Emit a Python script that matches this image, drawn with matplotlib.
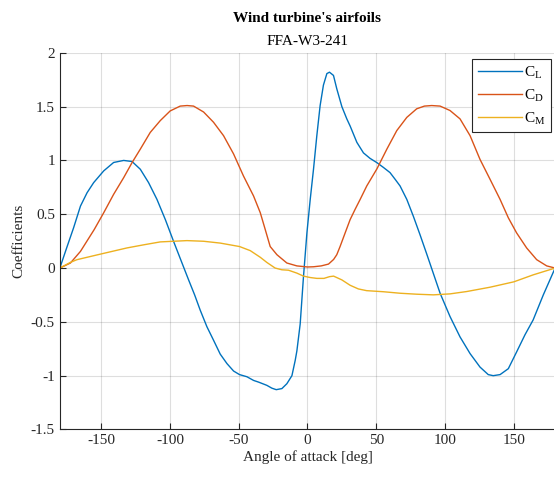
import matplotlib
matplotlib.use("Agg")
import matplotlib.pyplot as plt

plt.rcParams["font.family"] = ["Liberation Serif", "DejaVu Serif"]
plt.rcParams["mathtext.fontset"] = "custom"
plt.rcParams["mathtext.rm"] = "Liberation Serif"
plt.rcParams["axes.unicode_minus"] = False

# lift coefficient
cl_alpha = [-180, -174.7, -170, -165, -160.2, -155.4, -148.1, -140.9, -133.6, -127.5,
            -121.5, -115.5, -109.4, -103.3, -97.3, -91.2, -86.4, -82, -78, -73.1,
            -68.3, -63.4, -58.5, -53.7, -49.4, -44, -39.2, -35.5, -29.5, -25.9, -22.7,
            -18.6, -15, -11.3, -8.9, -7.7, -5.3, -2.9, -0.4, 2, 4.4, 6.8, 9.2, 11.6,
            14.1, 16, 18.9, 21.3, 25, 28.6, 31, 35.9, 40.7, 45.5, 50.4, 55.2, 60,
            63.7, 67.3, 72.2, 77, 81.8, 86.7, 96.4, 103.6, 110.9, 118.2, 125.4,
            131.4, 135, 140, 146, 152, 158.1, 164, 171.4, 180]
cl = [0, 0.2, 0.374, 0.576, 0.7, 0.794, 0.903, 0.981, 1.0, 0.99,
      0.918, 0.794, 0.638, 0.45, 0.247, 0.047, -0.11, -0.25, -0.39, -0.545,
      -0.67, -0.8, -0.888, -0.957, -0.99, -1.01, -1.044, -1.06, -1.09, -1.116, -1.13,
      -1.12, -1.075, -1.0, -0.857, -0.77, -0.52, -0.08, 0.327, 0.638, 0.92, 1.23, 1.51, 1.7,
      1.807, 1.82, 1.79, 1.666, 1.5, 1.386, 1.32, 1.168, 1.07, 1.019, 0.98, 0.935, 0.887,
      0.825, 0.763, 0.638, 0.48, 0.31, 0.13, -0.234, -0.45, -0.64, -0.795, -0.92,
      -0.99, -1.0, -0.99, -0.935, -0.78, -0.62, -0.483, -0.25, 0]

# drag coefficient
cd_alpha = [-180, -172.3, -165, -155, -148.1, -140.9, -133.6, -127.5, -121.5, -114.3,
            -107, -99.8, -92.5, -87.5, -82.8, -75.5, -68.3, -61, -53.7, -46.5, -39.2,
            -34.3, -30.7, -27.1, -22.2, -15, -7.7, 0, 4.4, 10, 15.3, 19, 21.3, 23.7,
            27.4, 31, 34.6, 38.3, 43.1, 50.4, 57.7, 64.9, 72.2, 79.4, 85, 90.3, 96.4,
            103.6, 110.9, 118.2, 125.4, 132.7, 140, 146, 152, 159.3, 166.6, 173.9, 180]
cd = [0, 0.047, 0.155, 0.358, 0.514, 0.685, 0.84, 0.98, 1.105, 1.26,
      1.37, 1.46, 1.505, 1.51, 1.505, 1.45, 1.355, 1.23, 1.06, 0.855, 0.67,
      0.514, 0.358, 0.2, 0.124, 0.047, 0.02, 0.01, 0.012, 0.02, 0.037, 0.08, 0.124, 0.2,
      0.327, 0.45, 0.545, 0.638, 0.763, 0.92, 1.105, 1.277, 1.4, 1.48, 1.505, 1.51, 1.505,
      1.464, 1.386, 1.23, 1.01, 0.825, 0.638, 0.467, 0.327, 0.187, 0.078, 0.02, 0]

# moment coefficient
cm_alpha = [-180, -172.3, -167.5, -149, -131.2, -119, -107, -87.6, -75.5, -63.4,
            -49.4, -41.6, -34.3, -29.5, -23.5, -18.6, -13.8, -7.7, -2.9, 2, 6.8, 12,
            16, 19, 25, 31, 37, 43, 55.2, 67.3, 79.4, 91.5, 103.6, 115.8, 132.7, 150,
            164.1, 180]
cm = [0, 0.053, 0.078, 0.134, 0.187, 0.216, 0.243, 0.255, 0.249, 0.232,
      0.2, 0.162, 0.1, 0.052, 0.0, -0.016, -0.02, -0.047, -0.075, -0.088, -0.096, -0.096,
      -0.08, -0.075, -0.11, -0.16, -0.194, -0.21, -0.22, -0.234, -0.243, -0.249, -0.24,
      -0.218, -0.178, -0.128, -0.063, 0]

fig = plt.figure(figsize=(5.54, 4.78), dpi=100)
ax = fig.add_axes([0.108, 0.1015, 0.894, 0.788])

ax.plot(cl_alpha, cl, color="#0072BD", lw=1.0, label=r"C$_{\rm L}$")
ax.plot(cd_alpha, cd, color="#D95319", lw=1.0, label=r"C$_{\rm D}$")
ax.plot(cm_alpha, cm, color="#EDB120", lw=1.0, label=r"C$_{\rm M}$")

ax.set_xlim(-180, 180)
ax.set_ylim(-1.5, 2)
ax.set_xticks([-150, -100, -50, 0, 50, 100, 150])
ax.set_yticks([-1.5, -1, -0.5, 0, 0.5, 1, 1.5, 2])
ax.set_yticklabels(["-1.5", "-1", "-0.5", "0", "0.5", "1", "1.5", "2"])
ax.grid(True, color="#262626", alpha=0.15, linewidth=0.8)
ax.tick_params(direction="in", length=4, labelsize=11, colors="#262626", width=0.8)
ax.spines["top"].set_visible(False)
ax.spines["right"].set_visible(False)
for s in ["left", "bottom"]:
    ax.spines[s].set_color("#262626")
    ax.spines[s].set_linewidth(0.8)

ax.set_xlabel("Angle of attack [deg]", fontsize=11, color="#262626", labelpad=2)
ax.set_ylabel("Coefficients", fontsize=11, color="#262626", labelpad=4)
fig.text(0.555, 0.962, "Wind turbine's airfoils", ha="center", va="center",
         fontsize=11, fontweight="bold", color="black")
fig.text(0.555, 0.914, "FFA-W3-241", ha="center", va="center",
         fontsize=11, color="black")

leg = ax.legend(loc="upper right", bbox_to_anchor=(0.992, 0.983), borderaxespad=0,
                fontsize=11, fancybox=False, edgecolor="#262626", framealpha=1,
                handlelength=2.9, handletextpad=0.15, labelspacing=0.4,
                borderpad=0.35)
leg.get_frame().set_linewidth(0.8)

fig.savefig("out.png", dpi=100)
